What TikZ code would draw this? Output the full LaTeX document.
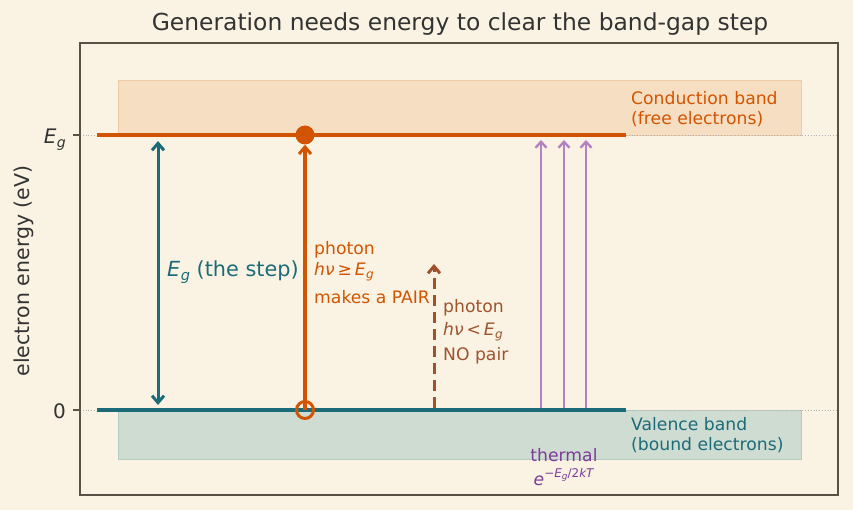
\documentclass[tikz,border=0pt]{standalone}
\usepackage{fontspec}
\setmainfont{DejaVu Sans}
\usetikzlibrary{arrows.meta}
\definecolor{bg}{HTML}{FAF3E3}
\definecolor{frame}{HTML}{5A5045}
\definecolor{orng}{HTML}{D35400}
\definecolor{teal}{HTML}{1B6B78}
\definecolor{brwn}{HTML}{A0522D}
\definecolor{purp}{HTML}{7D3C98}
\definecolor{purpl}{HTML}{B382C2}
\definecolor{cbfill}{HTML}{F5DEC2}
\definecolor{vbfill}{HTML}{CFDCD2}
\definecolor{txt}{HTML}{333333}
\newcommand{\Egs}{\textit{E}\kern0.5pt\raisebox{-0.35ex}{\scalebox{0.7}{\textit{g}}}}
\tikzset{
  lbl/.style={font=\fontsize{17.2}{20}\selectfont, inner sep=0pt, anchor=west},
  lvl/.style={line width=4pt},
  tipb/.style={-{Straight Barb[length=7pt,width=12pt,line width=3pt]}}
}
\begin{document}
\begin{tikzpicture}[x=1pt,y=-1pt]
\useasboundingbox (0,0) rectangle (853,510);
\fill[bg] (0,0) rectangle (853,510);
% bands
\fill[cbfill, draw=cbfill!85!orng] (118,80) rectangle (801,135);
\fill[vbfill, draw=vbfill!85!teal] (118,410) rectangle (801,459);
% dotted guide lines
\draw[gray!60, dotted, line width=0.8pt] (80,135) -- (838,135);
\draw[gray!60, dotted, line width=0.8pt] (80,410) -- (838,410);
% frame
\draw[frame, line width=1.4pt] (80,43) rectangle (838,495);
\draw[frame, line width=1.4pt] (73,135) -- (80,135);
\draw[frame, line width=1.4pt] (73,410) -- (80,410);
% levels
\coordinate (cL) at (97,135); \coordinate (cR) at (626,135);
\coordinate (vL) at (97,410); \coordinate (vR) at (626,410);
\draw[orng, lvl] (cL) -- (cR);
\draw[teal, lvl] (vL) -- (vR);
% tick labels
\node[font=\fontsize{20}{24}\selectfont, text=txt, anchor=east, inner sep=0pt] (tEg) at (66,140) {\Egs};
\node[font=\fontsize{20}{24}\selectfont, text=txt, anchor=east, inner sep=0pt] (t0) at (66,411) {0};
\node[font=\fontsize{20.5}{24}\selectfont, text=txt, rotate=90, inner sep=0pt] (ylab) at (24,271) {electron energy (eV)};
\node[font=\fontsize{23.4}{28}\selectfont, text=txt, inner sep=0pt] (title) at (460,24) {Generation needs energy to clear the band-gap step};
% Eg step arrow
\coordinate (sT) at (158,141); \coordinate (sB) at (158,405);
\draw[teal, line width=3pt, {Straight Barb[length=7pt,width=12pt,line width=3pt]}-{Straight Barb[length=7pt,width=12pt,line width=3pt]}] (sB) -- (sT);
\node[font=\fontsize{20.8}{24}\selectfont, text=teal, anchor=west, inner sep=0pt] (steplbl) at (167,272) {\Egs\ (the step)};
% photon pair arrow
\node[circle, fill=orng, minimum size=19pt, inner sep=0pt] (el) at (305,135) {};
\node[circle, draw=orng, line width=3pt, minimum size=17pt, inner sep=0pt] (ho) at (305,410) {};
\draw[orng, line width=3.5pt, tipb] (ho.center) -- (el.south);
\node[lbl, text=orng] (p1) at (314,250) {photon};
\node[lbl, text=orng] (p2) at (314,272) {\textit{hν}\,≥\,\Egs};
\node[lbl, text=orng] (p3) at (314,297) {makes a PAIR};
% sub-gap photon
\coordinate (dB) at (434,408); \coordinate (dT) at (434,264);
\draw[brwn, line width=3pt, dash pattern=on 11pt off 6pt, tipb] (dB) -- (dT);
\node[lbl, text=brwn] (n1) at (443,308) {photon};
\node[lbl, text=brwn] (n2) at (443,332) {\textit{hν}\,<\,\Egs};
\node[lbl, text=brwn] (n3) at (443,356) {NO pair};
% thermal arrows
\foreach \x/\n in {541/a,564/b,586/c}{
  \coordinate (th\n B) at (\x,408);
  \coordinate (th\n T) at (\x,140);
  \draw[purpl, line width=2.4pt, -{Straight Barb[length=6pt,width=11pt,line width=2.4pt]}] (th\n B) -- (th\n T);
}
\node[font=\fontsize{17.2}{20}\selectfont, text=purp, inner sep=0pt] (th1) at (564,455) {thermal};
\node[font=\fontsize{17.2}{20}\selectfont, text=purp, inner sep=0pt] (th2) at (564,477) {\textit{e}\raisebox{0.9ex}{\fontsize{12}{14}\selectfont −\textit{E}\raisebox{-0.3ex}{\fontsize{9}{10}\selectfont\textit{g}}/2\textit{kT}}};
% band labels
\node[lbl, text=orng] (cb1) at (631,98) {Conduction band};
\node[lbl, text=orng] (cb2) at (631,119) {(free electrons)};
\node[lbl, text=teal] (vb1) at (631,424) {Valence band};
\node[lbl, text=teal] (vb2) at (631,445) {(bound electrons)};
\end{tikzpicture}
\end{document}
